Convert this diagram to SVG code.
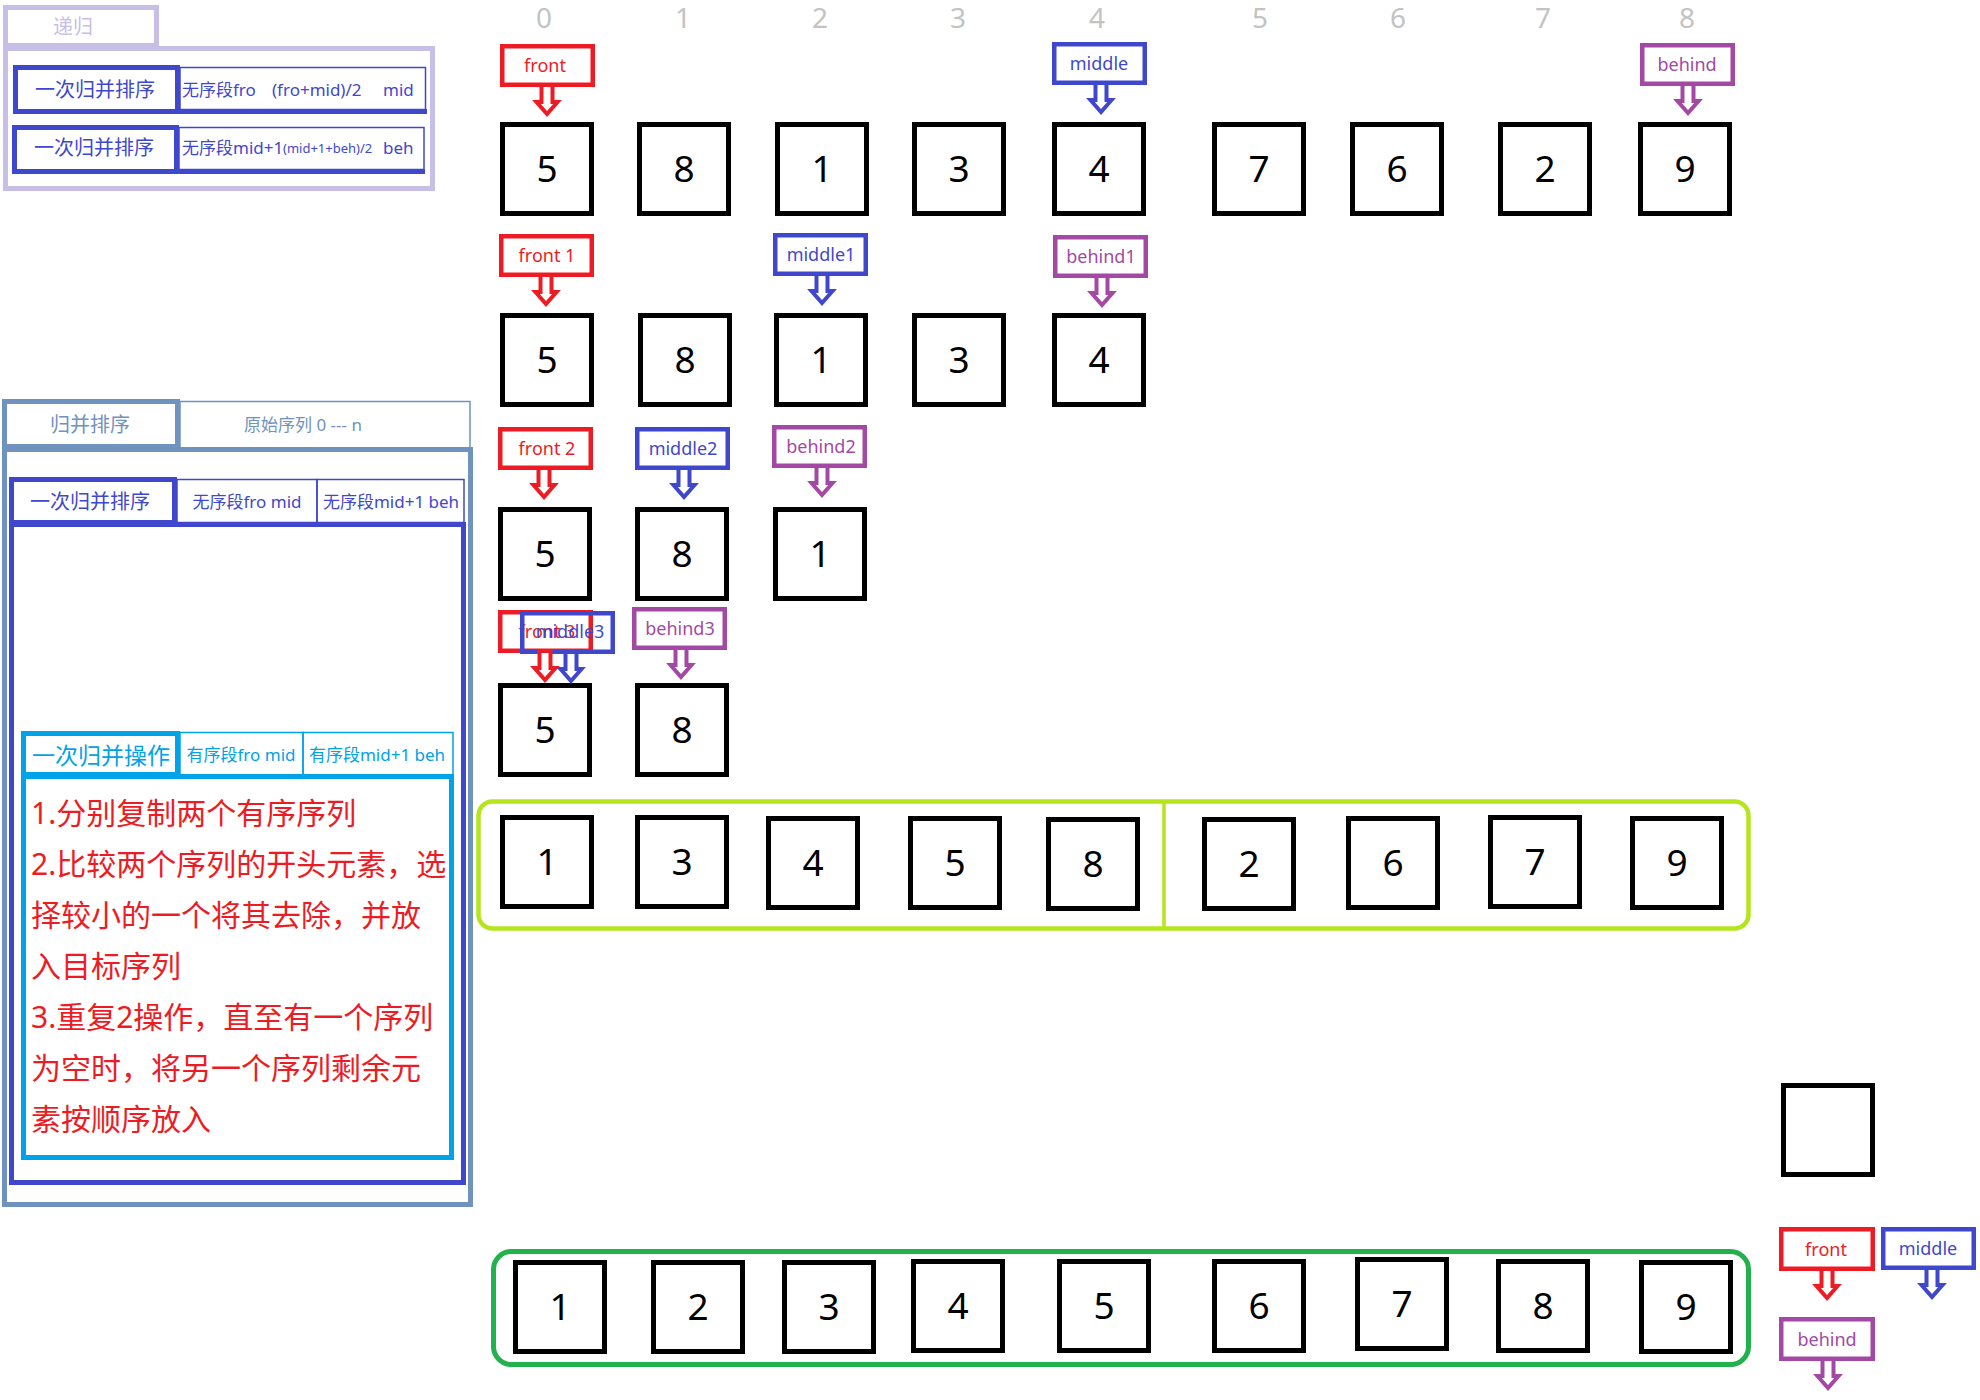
<svg xmlns="http://www.w3.org/2000/svg" xmlns:xlink="http://www.w3.org/1999/xlink" width="1980" height="1400" viewBox="0 0 1980 1400">
<style>
text{font-family:"Noto Sans","Noto Sans CJK SC",sans-serif}
.nb{fill:none;stroke:#000;stroke-width:5}
.nt{font-size:37px;text-anchor:middle;fill:#000}
.idx{font-size:28px;text-anchor:middle;fill:#C3C3C3}
.lb{fill:none;stroke-width:4.5}
.lt{font-size:18px;text-anchor:middle}
.red{stroke:#ED1C24}.tred{fill:#ED1C24}
.ind{stroke:#3F48CC}.tind{fill:#3F48CC}
.pur{stroke:#A349A4}.tpur{fill:#A349A4}
.ar{fill:#fff;stroke-width:4}
.thick{fill:none;stroke-width:5}
.thin{fill:none;stroke-width:1.5}
.lav{stroke:#C8BFE7}.tlav{fill:#C8BFE7}
.bg{stroke:#7092BE}.tbg{fill:#7092BE}
.tq{stroke:#00A2E8}.ttq{fill:#00A2E8}
.cjk{font-family:"Noto Sans","Noto Sans CJK SC",sans-serif}
.rt{font-size:30px;fill:#ED1C24}
</style>
<defs>
<path id="arr" d="M-5.5 -2 V15 H-10.5 L0 27 L10.5 15 H5.5 V-2 Z"/>
</defs>
<rect width="1980" height="1400" fill="#fff"/>

<!-- top-left recursion panel -->
<g id="recursion">
<rect class="thick lav" x="5.5" y="7.5" width="151" height="38"/>
<text class="tlav" x="73" y="34" font-size="20" text-anchor="middle">递归</text>
<rect class="thick lav" x="5.5" y="48.5" width="427" height="140"/>
<g id="rec-row1">
<rect class="thin ind" x="180" y="67.5" width="245.5" height="42"/>
<rect class="thick ind" x="15.5" y="67.5" width="162" height="44"/>
<line class="ind" x1="13" y1="111.5" x2="427" y2="111.5" stroke-width="5"/>
<text class="tind" x="95" y="97" font-size="20" text-anchor="middle">一次归并排序</text>
<text class="tind" x="182" y="96" font-size="17">无序段fro</text>
<text class="tind" x="272" y="96" font-size="17">(fro+mid)/2</text>
<text class="tind" x="383" y="96" font-size="17">mid</text>
</g>
<g id="rec-row2">
<rect class="thin ind" x="179" y="127.5" width="245" height="42"/>
<rect class="thick ind" x="14.5" y="127.5" width="162" height="44"/>
<line class="ind" x1="12" y1="171.5" x2="425" y2="171.5" stroke-width="5"/>
<text class="tind" x="94" y="155" font-size="20" text-anchor="middle">一次归并排序</text>
<text class="tind" x="182" y="154" font-size="17">无序段mid+1</text>
<text class="tind" x="283" y="153" font-size="13">(mid+1+beh)/2</text>
<text class="tind" x="383" y="154" font-size="17">beh</text>
</g>
</g>

<!-- merge sort panel -->
<g id="mergesort">
<rect class="thin bg" x="180" y="401.5" width="290" height="47"/>
<rect class="thick bg" x="4.5" y="401.5" width="173" height="45"/>
<text class="tbg" x="90" y="432" font-size="20" text-anchor="middle">归并排序</text>
<text class="tbg" x="303" y="431" font-size="17" text-anchor="middle">原始序列 0 --- n</text>
<rect class="thick bg" x="4.5" y="449.5" width="466" height="755"/>
</g>
<g id="merge-once">
<rect class="thin ind" x="177" y="479.5" width="140" height="43"/>
<rect class="thin ind" x="317" y="479.5" width="147" height="43"/>
<rect class="thick ind" x="11.5" y="479.5" width="163" height="43"/>
<text class="tind" x="90" y="509" font-size="20" text-anchor="middle">一次归并排序</text>
<text class="tind" x="247" y="508" font-size="17" text-anchor="middle">无序段fro mid</text>
<text class="tind" x="391" y="508" font-size="17" text-anchor="middle">无序段mid+1 beh</text>
<rect class="thick ind" x="11.5" y="524.5" width="452" height="658"/>
</g>
<g id="merge-op">
<rect class="thin tq" x="180" y="732.5" width="123" height="43"/>
<rect class="thin tq" x="303" y="732.5" width="150" height="43"/>
<rect class="thick tq" x="23.5" y="733.5" width="154" height="41"/>
<text class="ttq" x="101" y="764" font-size="23" text-anchor="middle">一次归并操作</text>
<text class="ttq" x="241" y="761" font-size="17" text-anchor="middle">有序段fro mid</text>
<text class="ttq" x="377" y="761" font-size="17" text-anchor="middle">有序段mid+1 beh</text>
<rect class="thick tq" x="23.5" y="776.5" width="428" height="381"/>
<text class="rt" x="31" y="824">1.分别复制两个有序序列</text>
<text class="rt" x="31" y="875">2.比较两个序列的开头元素，选</text>
<text class="rt" x="31" y="926">择较小的一个将其去除，并放</text>
<text class="rt" x="31" y="977">入目标序列</text>
<text class="rt" x="31" y="1028">3.重复2操作，直至有一个序列</text>
<text class="rt" x="31" y="1079">为空时，将另一个序列剩余元</text>
<text class="rt" x="31" y="1130">素按顺序放入</text>
</g>

<!-- index labels -->
<g id="indices">
<text class="idx" x="544" y="28">0</text>
<text class="idx" x="683" y="28">1</text>
<text class="idx" x="820" y="28">2</text>
<text class="idx" x="958" y="28">3</text>
<text class="idx" x="1097" y="28">4</text>
<text class="idx" x="1260" y="28">5</text>
<text class="idx" x="1398" y="28">6</text>
<text class="idx" x="1543" y="28">7</text>
<text class="idx" x="1687" y="28">8</text>
</g>

<!-- row 1 -->
<g id="r1c0"><rect class="nb" x="502.5" y="124.5" width="89" height="89"/><text class="nt" x="547" y="182">5</text></g>
<g id="r1c1"><rect class="nb" x="639.5" y="124.5" width="89" height="89"/><text class="nt" x="684" y="182">8</text></g>
<g id="r1c2"><rect class="nb" x="777.5" y="124.5" width="89" height="89"/><text class="nt" x="822" y="182">1</text></g>
<g id="r1c3"><rect class="nb" x="914.5" y="124.5" width="89" height="89"/><text class="nt" x="959" y="182">3</text></g>
<g id="r1c4"><rect class="nb" x="1054.5" y="124.5" width="89" height="89"/><text class="nt" x="1099" y="182">4</text></g>
<g id="r1c5"><rect class="nb" x="1214.5" y="124.5" width="89" height="89"/><text class="nt" x="1259" y="182">7</text></g>
<g id="r1c6"><rect class="nb" x="1352.5" y="124.5" width="89" height="89"/><text class="nt" x="1397" y="182">6</text></g>
<g id="r1c7"><rect class="nb" x="1500.5" y="124.5" width="89" height="89"/><text class="nt" x="1545" y="182">2</text></g>
<g id="r1c8"><rect class="nb" x="1640.5" y="124.5" width="89" height="89"/><text class="nt" x="1685" y="182">9</text></g>

<!-- row 2 -->
<g id="r2c0"><rect class="nb" x="502.5" y="315.5" width="89" height="89"/><text class="nt" x="547" y="373">5</text></g>
<g id="r2c1"><rect class="nb" x="640.5" y="315.5" width="89" height="89"/><text class="nt" x="685" y="373">8</text></g>
<g id="r2c2"><rect class="nb" x="776.5" y="315.5" width="89" height="89"/><text class="nt" x="821" y="373">1</text></g>
<g id="r2c3"><rect class="nb" x="914.5" y="315.5" width="89" height="89"/><text class="nt" x="959" y="373">3</text></g>
<g id="r2c4"><rect class="nb" x="1054.5" y="315.5" width="89" height="89"/><text class="nt" x="1099" y="373">4</text></g>

<!-- row 3 -->
<g id="r3c0"><rect class="nb" x="500.5" y="509.5" width="89" height="89"/><text class="nt" x="545" y="567">5</text></g>
<g id="r3c1"><rect class="nb" x="637.5" y="509.5" width="89" height="89"/><text class="nt" x="682" y="567">8</text></g>
<g id="r3c2"><rect class="nb" x="775.5" y="509.5" width="89" height="89"/><text class="nt" x="820" y="567">1</text></g>

<!-- row 4 -->
<g id="r4c0"><rect class="nb" x="500.5" y="685.5" width="89" height="89"/><text class="nt" x="545" y="743">5</text></g>
<g id="r4c1"><rect class="nb" x="637.5" y="685.5" width="89" height="89"/><text class="nt" x="682" y="743">8</text></g>

<!-- pointer labels -->
<g id="lbl-front"><rect class="lb red" x="502.25" y="46.25" width="90.5" height="38.5"/><text class="lt tred" x="545" y="72">front</text></g>
<g id="lbl-middle"><rect class="lb ind" x="1054.25" y="44.25" width="90.5" height="38.5"/><text class="lt tind" x="1099" y="70">middle</text></g>
<g id="lbl-behind"><rect class="lb pur" x="1642.25" y="45.25" width="90.5" height="38.5"/><text class="lt tpur" x="1687" y="71">behind</text></g>
<g id="lbl-front1"><rect class="lb red" x="501.25" y="236.25" width="90.5" height="38.5"/><text class="lt tred" x="547" y="262">front 1</text></g>
<g id="lbl-middle1"><rect class="lb ind" x="775.25" y="235.25" width="90.5" height="38.5"/><text class="lt tind" x="821" y="261">middle1</text></g>
<g id="lbl-behind1"><rect class="lb pur" x="1055.25" y="237.25" width="90.5" height="38.5"/><text class="lt tpur" x="1101" y="263">behind1</text></g>
<g id="lbl-front2"><rect class="lb red" x="500.25" y="429.25" width="90.5" height="38.5"/><text class="lt tred" x="547" y="455">front 2</text></g>
<g id="lbl-middle2"><rect class="lb ind" x="637.25" y="429.25" width="90.5" height="38.5"/><text class="lt tind" x="683" y="455">middle2</text></g>
<g id="lbl-behind2"><rect class="lb pur" x="774.25" y="427.25" width="90.5" height="38.5"/><text class="lt tpur" x="821" y="453">behind2</text></g>
<g id="lbl-front3"><rect class="lb red" x="500.25" y="612.25" width="90.5" height="38.5"/><text class="lt tred" x="547" y="638">front 3</text></g>
<g id="lbl-middle3"><rect class="lb ind" x="522.25" y="613.25" width="90.5" height="38.5"/><text class="lt tind" x="570" y="638">middle3</text></g>
<g id="lbl-behind3"><rect class="lb pur" x="634.25" y="609.25" width="90.5" height="38.5"/><text class="lt tpur" x="680" y="635">behind3</text></g>

<!-- merged lime group -->
<g id="lime-group">
<rect x="478.5" y="801.5" width="1270" height="127" rx="14" fill="none" stroke="#B5E61D" stroke-width="4.5"/>
<line x1="1164" y1="801" x2="1164" y2="929" stroke="#B5E61D" stroke-width="3.5"/>
</g>
<g id="l0"><rect class="nb" x="502.5" y="817.5" width="89" height="89"/><text class="nt" x="547" y="875">1</text></g>
<g id="l1"><rect class="nb" x="637.5" y="817.5" width="89" height="89"/><text class="nt" x="682" y="875">3</text></g>
<g id="l2"><rect class="nb" x="768.5" y="818.5" width="89" height="89"/><text class="nt" x="813" y="876">4</text></g>
<g id="l3"><rect class="nb" x="910.5" y="818.5" width="89" height="89"/><text class="nt" x="955" y="876">5</text></g>
<g id="l4"><rect class="nb" x="1048.5" y="819.5" width="89" height="89"/><text class="nt" x="1093" y="877">8</text></g>
<g id="l5"><rect class="nb" x="1204.5" y="819.5" width="89" height="89"/><text class="nt" x="1249" y="877">2</text></g>
<g id="l6"><rect class="nb" x="1348.5" y="818.5" width="89" height="89"/><text class="nt" x="1393" y="876">6</text></g>
<g id="l7"><rect class="nb" x="1490.5" y="817.5" width="89" height="89"/><text class="nt" x="1535" y="875">7</text></g>
<g id="l8"><rect class="nb" x="1632.5" y="818.5" width="89" height="89"/><text class="nt" x="1677" y="876">9</text></g>

<!-- empty slot -->
<g id="empty"><rect class="nb" x="1783.5" y="1085.5" width="89" height="89"/></g>

<!-- final green group -->
<g id="green-group">
<rect x="493.5" y="1251.5" width="1255" height="113" rx="18" fill="none" stroke="#22B14C" stroke-width="5"/>
</g>
<g id="g0"><rect class="nb" x="515.5" y="1262.5" width="89" height="89"/><text class="nt" x="560" y="1320">1</text></g>
<g id="g1"><rect class="nb" x="653.5" y="1262.5" width="89" height="89"/><text class="nt" x="698" y="1320">2</text></g>
<g id="g2"><rect class="nb" x="784.5" y="1262.5" width="89" height="89"/><text class="nt" x="829" y="1320">3</text></g>
<g id="g3"><rect class="nb" x="913.5" y="1261.5" width="89" height="89"/><text class="nt" x="958" y="1319">4</text></g>
<g id="g4"><rect class="nb" x="1059.5" y="1261.5" width="89" height="89"/><text class="nt" x="1104" y="1319">5</text></g>
<g id="g5"><rect class="nb" x="1214.5" y="1261.5" width="89" height="89"/><text class="nt" x="1259" y="1319">6</text></g>
<g id="g6"><rect class="nb" x="1357.5" y="1259.5" width="89" height="89"/><text class="nt" x="1402" y="1317">7</text></g>
<g id="g7"><rect class="nb" x="1498.5" y="1261.5" width="89" height="89"/><text class="nt" x="1543" y="1319">8</text></g>
<g id="g8"><rect class="nb" x="1641.5" y="1262.5" width="89" height="89"/><text class="nt" x="1686" y="1320">9</text></g>

<!-- legend labels bottom right -->
<g id="legend-front"><rect class="lb red" x="1781.25" y="1229.25" width="91.5" height="39.5"/><text class="lt tred" x="1826" y="1256">front</text></g>
<g id="legend-middle"><rect class="lb ind" x="1883.25" y="1229.25" width="90.5" height="38.5"/><text class="lt tind" x="1928" y="1255">middle</text></g>
<g id="legend-behind"><rect class="lb pur" x="1781.25" y="1319.25" width="91.5" height="39.5"/><text class="lt tpur" x="1827" y="1346">behind</text></g>

<!-- pointer arrows -->
<g id="connectors">
<use xlink:href="#arr" class="ar red" transform="translate(547,87)"/>
<use xlink:href="#arr" class="ar ind" transform="translate(1101,85)"/>
<use xlink:href="#arr" class="ar pur" transform="translate(1688,86)"/>
<use xlink:href="#arr" class="ar red" transform="translate(546,277)"/>
<use xlink:href="#arr" class="ar ind" transform="translate(822,276)"/>
<use xlink:href="#arr" class="ar pur" transform="translate(1102,278)"/>
<use xlink:href="#arr" class="ar red" transform="translate(544,470)"/>
<use xlink:href="#arr" class="ar ind" transform="translate(684,470)"/>
<use xlink:href="#arr" class="ar pur" transform="translate(822,468)"/>
<use xlink:href="#arr" class="ar red" transform="translate(545,653)"/>
<use xlink:href="#arr" class="ar ind" transform="translate(571,654)"/>
<use xlink:href="#arr" class="ar pur" transform="translate(681,650)"/>
<use xlink:href="#arr" class="ar red" transform="translate(1827,1271)"/>
<use xlink:href="#arr" class="ar ind" transform="translate(1932,1270)"/>
<use xlink:href="#arr" class="ar pur" transform="translate(1828,1361)"/>
</g>
</svg>
